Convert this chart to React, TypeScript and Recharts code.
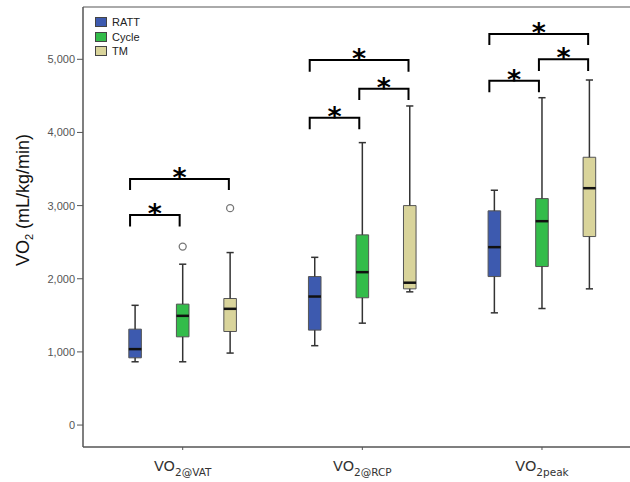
import React from "react";
import {
  ComposedChart,
  XAxis,
  YAxis,
  ReferenceArea,
  ReferenceLine,
  Scatter,
  Legend,
} from "recharts";

const categories = ["VO2@VAT", "VO2@RCP", "VO2peak"];
const seriesNames = ["RATT", "Cycle", "TM"];
const seriesColors = ["#3d5aaf", "#33bc4a", "#d9d49b"];

// [min, q1, median, q3, max] for each category
const rattStats = [
  [865, 919, 1038, 1311, 1637],
  [1085, 1298, 1757, 2030, 2293],
  [1534, 2030, 2432, 2928, 3210],
];
const cycleStats = [
  [865, 1206, 1493, 1653, 2199],
  [1393, 1740, 2090, 2600, 3861],
  [1593, 2167, 2787, 3096, 4475],
];
const tmStats = [
  [984, 1279, 1589, 1730, 2358],
  [1821, 1862, 1946, 3000, 4362],
  [1862, 2577, 3238, 3661, 4717],
];
const rattOutliers = [[], [], []];
const cycleOutliers = [[2440], [], []];
const tmOutliers = [[2965], [], []];

const yTicks = [0, 1000, 2000, 3000, 4000, 5000];

// significance brackets (series index from / to)
const bracketCategory = [0, 0, 1, 1, 1, 2, 2, 2];
const bracketFrom = [0, 0, 0, 1, 0, 0, 1, 0];
const bracketTo = [2, 1, 2, 2, 1, 2, 2, 1];
const bracketTop = [3365, 2873, 4990, 4598, 4202, 5346, 5000, 4708];
const bracketEnd = [3214, 2713, 4831, 4444, 4044, 5195, 4840, 4549];
const bracketMark = ["*", "*", "*", "*", "*", "*", "*", "*"];

// layout
const W = 630;
const H = 482;
const SERIES_OFFSET = [-0.265, 0, 0.264];
const BRACKET_OFFSET = [-0.293, -0.017, 0.257];
const BOX_HALF = 0.035;
const CAP_HALF = 0.02;
const FONT = "'Liberation Sans', Arial, sans-serif";

const allStats = [rattStats, cycleStats, tmStats];
const allOutliers = [rattOutliers, cycleOutliers, tmOutliers];

const outlierPoints = allOutliers.flatMap((perCat, s) =>
  perCat.flatMap((vals, c) => vals.map((v) => ({ x: c + SERIES_OFFSET[s], y: v })))
);

const bracketPaths = bracketTop.map((top, i) => {
  const c = bracketCategory[i];
  const x1 = c + BRACKET_OFFSET[bracketFrom[i]];
  const x2 = c + BRACKET_OFFSET[bracketTo[i]];
  return [
    { x: x1, y: bracketEnd[i] },
    { x: x1, y: top },
    { x: x2, y: top },
    { x: x2, y: bracketEnd[i] },
  ];
});

const starPoints = bracketTop.map((top, i) => ({
  x: bracketCategory[i] + (BRACKET_OFFSET[bracketFrom[i]] + BRACKET_OFFSET[bracketTo[i]]) / 2,
  y: top,
  mark: bracketMark[i],
}));

function XTick(props: any) {
  const { x, y, payload } = props;
  const label = categories[payload.value] ?? "";
  return (
    <text x={x} y={y} dy={19} textAnchor="middle" fill="#333" fontFamily="'DejaVu Sans', sans-serif">
      <tspan fontSize={14.5}>{label.slice(0, 2)}</tspan>
      <tspan fontSize={10.5} dy={5}>
        {label.slice(2)}
      </tspan>
    </text>
  );
}

function LegendBox() {
  return (
    <div style={{ fontFamily: FONT, fontSize: 11, color: "#222", lineHeight: "14.5px" }}>
      {seriesNames.map((name, i) => (
        <div key={name} style={{ display: "flex", alignItems: "center", height: 14.5 }}>
          <span
            style={{
              display: "inline-block",
              width: 10,
              height: 8,
              background: seriesColors[i],
              border: "1px solid #444",
              marginRight: 5,
            }}
          />
          {name}
        </div>
      ))}
    </div>
  );
}

function YLabel() {
  return (
    <text
      transform="translate(29,200) rotate(-90)"
      textAnchor="middle"
      fontFamily={FONT}
      fontSize={18}
      fill="#111"
    >
      <tspan>VO</tspan>
      <tspan fontSize={11} dy={4}>
        2
      </tspan>
      <tspan dy={-4}> (mL/kg/min)</tspan>
    </text>
  );
}

export default function App() {
  const boxes = allStats.flatMap((stats, s) =>
    stats.flatMap(([min, q1, med, q3, max], c) => {
      const x = c + SERIES_OFFSET[s];
      const k = `${s}-${c}`;
      const line = { stroke: "#333", strokeWidth: 1.5, ifOverflow: "visible" as const };
      return [
        <ReferenceLine key={`wl${k}`} segment={[{ x, y: min }, { x, y: q1 }]} {...line} />,
        <ReferenceLine key={`wh${k}`} segment={[{ x, y: q3 }, { x, y: max }]} {...line} />,
        <ReferenceLine key={`cl${k}`} segment={[{ x: x - CAP_HALF, y: min }, { x: x + CAP_HALF, y: min }]} {...line} />,
        <ReferenceLine key={`ch${k}`} segment={[{ x: x - CAP_HALF, y: max }, { x: x + CAP_HALF, y: max }]} {...line} />,
        <ReferenceArea
          key={`b${k}`}
          x1={x - BOX_HALF}
          x2={x + BOX_HALF}
          y1={q1}
          y2={q3}
          fill={seriesColors[s]}
          fillOpacity={1}
          stroke="#555"
          strokeWidth={1}
          ifOverflow="visible"
        />,
        <ReferenceLine
          key={`m${k}`}
          segment={[{ x: x - BOX_HALF, y: med }, { x: x + BOX_HALF, y: med }]}
          stroke="#111"
          strokeWidth={2.5}
          ifOverflow="visible"
        />,
      ];
    })
  );

  return (
    <div style={{ position: "absolute", left: 0, top: 0, width: W, height: H, background: "#fff" }}>
      <ComposedChart width={W} height={H} margin={{ top: 7, right: 0, bottom: 0, left: 0 }}>
        <XAxis
          dataKey="x"
          type="number"
          domain={[-0.555, 2.49]}
          allowDataOverflow
          ticks={[0, 1, 2]}
          tick={<XTick />}
          tickSize={3}
          height={35}
          axisLine={{ stroke: "#555", strokeWidth: 1.5 }}
          tickLine={{ stroke: "#555" }}
        />
        <YAxis
          dataKey="y"
          type="number"
          domain={[-300, 5715]}
          allowDataOverflow
          ticks={yTicks}
          tickFormatter={(v: number) => v.toLocaleString("en-US")}
          tick={{ fill: "#555", fontSize: 11, fontFamily: FONT }}
          tickSize={6}
          width={83}
          axisLine={{ stroke: "#555", strokeWidth: 1.5 }}
          tickLine={{ stroke: "#555" }}
          label={<YLabel />}
        />
        <ReferenceLine y={5715} stroke="#aaa" strokeWidth={2} />
        {boxes}
        <Scatter
          data={outlierPoints}
          dataKey="y"
          isAnimationActive={false}
          shape={(p: any) => (
            <circle cx={p.cx} cy={p.cy} r={3.5} fill="#fff" stroke="#777" strokeWidth={1.3} />
          )}
        />
        {bracketPaths.map((pts, i) => (
          <Scatter
            key={`br${i}`}
            data={pts}
            dataKey="y"
            isAnimationActive={false}
            line={{ stroke: "#000", strokeWidth: 2 }}
            lineType="joint"
            shape={() => <g />}
          />
        ))}
        <Scatter
          data={starPoints}
          dataKey="y"
          isAnimationActive={false}
          shape={(p: any) => (
            <text
              x={p.cx}
              y={p.cy}
              dy={8}
              textAnchor="middle"
              fontFamily="'DejaVu Sans', sans-serif"
              fontWeight="bold"
              fontSize={27}
              fill="#000"
            >
              {p.payload.mark}
            </text>
          )}
        />
        <Legend
          layout="vertical"
          align="center"
          verticalAlign="middle"
          content={<LegendBox />}
          wrapperStyle={{ left: 95, top: 15, width: "auto", height: "auto" }}
        />
      </ComposedChart>
    </div>
  );
}
